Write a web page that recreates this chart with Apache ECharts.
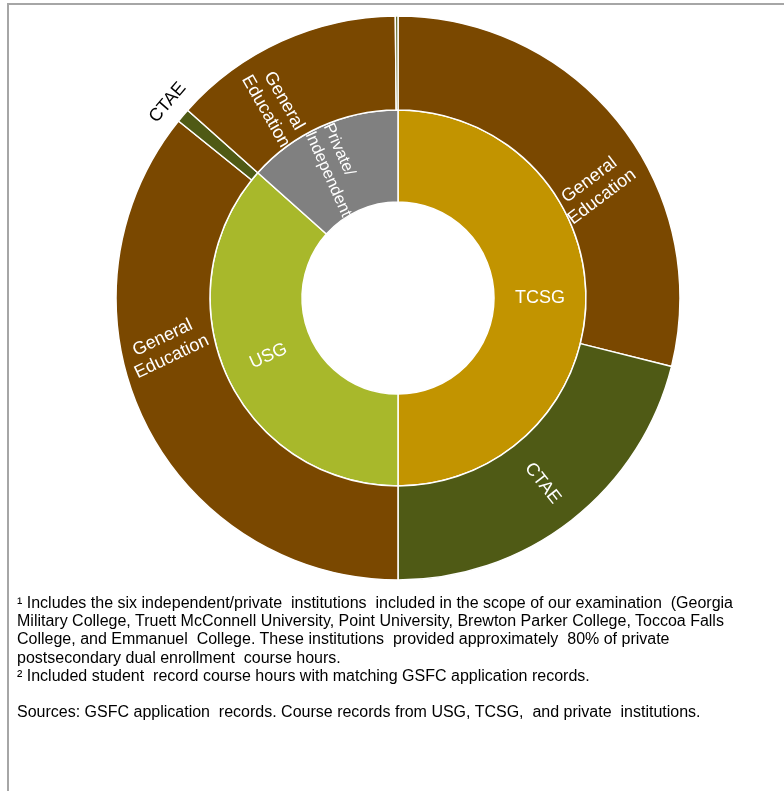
<!DOCTYPE html>
<html>
<head>
<meta charset="utf-8">
<script src="https://cdn.jsdelivr.net/npm/echarts@6/dist/echarts.min.js"></script>
<style>
html, body { margin: 0; padding: 0; background: #fff; }
#frame { position: absolute; left: 7px; top: 3px; width: 777px; height: 788px; border-top: 2px solid #a6a6a6; border-left: 2px solid #a6a6a6; box-sizing: border-box; }
#chart { position: absolute; left: 0; top: 0; width: 784px; height: 791px; }
#notes { position: absolute; left: 17px; top: 594px; font-family: 'Liberation Sans', Arial, sans-serif; font-size: 16px; line-height: 18.2px; color: #000; white-space: pre; }
</style>
</head>
<body>
<div id="frame"></div>
<div id="chart"></div>
<div id="notes"></div>
<script>
// ---- data ----
const sectors = ['TCSG', 'USG', 'Private/\nIndependent'];
const courseTypes = ['General\nEducation', 'CTAE'];
const genEdShare = [28.9, 35.8, 13.25];   // % of course hours
const ctaeShare  = [21.1, 0.8, 0.15];     // % of course hours
const noteLines = [
  '\u00b9 Includes the six independent/private  institutions  included in the scope of our examination  (Georgia',
  'Military College, Truett McConnell University, Point University, Brewton Parker College, Toccoa Falls',
  'College, and Emmanuel  College. These institutions  provided approximately  80% of private',
  'postsecondary dual enrollment  course hours.',
  '\u00b2 Included student  record course hours with matching GSFC application records.',
  '',
  'Sources: GSFC application  records. Course records from USG, TCSG,  and private  institutions.'
];

// ---- styles / layout ----
const sectorColors = ['#C29400', '#A8B82B', '#808080'];
const typeColors = ['#7A4800', '#4F5A15'];
const FONT = 'Liberation Sans';
const CX = 398, CY = 298;
const R_HOLE = 96, R_MID = 188, R_OUT = 282;
const genEdLabelR = [226, 236, 228];       // radius of the "General Education" label centres
const genEdPosNudgeDeg = [9, 13.5, -8.3];  // angular shift of those labels (Excel-like placement)
const genEdRotNudgeDeg = [1, 0, -5.4];     // small rotation tweaks of those labels

document.getElementById('notes').textContent = noteLines.join('\n');

const values = [genEdShare, ctaeShare];
const total = values.flat().reduce((a, b) => a + b, 0);
const toDeg = v => v / total * 360;

// angular ranges (clockwise from 12 o'clock) derived from the data
const sectorStart = [];
{ let acc = 0; sectors.forEach((s, i) => { sectorStart.push(acc); acc += toDeg(genEdShare[i] + ctaeShare[i]); }); }
const genEdMid = sectors.map((s, i) => sectorStart[i] + toDeg(genEdShare[i]) / 2);
const sectorMid = sectors.map((s, i) => sectorStart[i] + toDeg(genEdShare[i] + ctaeShare[i]) / 2);

function sectorOfAngle(deg) {
  for (let i = sectors.length - 1; i >= 0; i--) if (deg >= sectorStart[i]) return i;
  return 0;
}
function radialRotation(phi) {          // readable radial text angle (deg, CCW) for clockwise angle phi
  let t = 90 - phi;
  while (t > 90) t -= 180;
  while (t <= -90) t += 180;
  return t;
}
function polar(r, phi) {
  const a = phi * Math.PI / 180;
  return [CX + r * Math.sin(a), CY - r * Math.cos(a)];
}

const sunData = sectors.map((s, i) => ({
  name: s,
  itemStyle: { color: sectorColors[i] },
  label: i === 2 ? { fontSize: 16.5, lineHeight: 20 } : {},
  children: courseTypes.map((t, j) => {
    const v = values[j][i];
    const node = { name: t, value: v, itemStyle: { color: typeColors[j] } };
    if (j === 1) node.label = v > 5 ? { align: 'center' } : { show: false };
    return node;
  })
}));

// flattened outer ring for the outside label layer
const flat = [];
sectors.forEach((s, i) => courseTypes.forEach((t, j) => {
  const v = values[j][i];
  flat.push({ name: t, value: v, label: { show: j === 1 && v > 0.5 && v < 5 } });
}));

const chart = echarts.init(document.getElementById('chart'), null, { renderer: 'canvas' });
chart.setOption({
  animation: false,
  series: [
    {
      type: 'pie',
      z: 1,
      center: [CX, CY],
      radius: [R_OUT, R_OUT + 34],
      startAngle: 90,
      silent: true,
      avoidLabelOverlap: false,
      itemStyle: { color: 'rgba(0,0,0,0)', borderWidth: 0 },
      label: { position: 'inside', rotate: 'tangential', color: '#000000', fontFamily: FONT, fontSize: 18, formatter: '{b}' },
      labelLine: { show: false },
      emphasis: { disabled: true },
      data: flat
    },
    {
      type: 'sunburst',
      z: 3,
      center: [CX, CY],
      sort: null,
      nodeClick: false,
      startAngle: 90,
      emphasis: { disabled: true },
      itemStyle: { borderColor: '#ffffff', borderWidth: 1.5 },
      label: { color: '#ffffff', fontFamily: FONT, fontSize: 18, lineHeight: 21, rotate: 'radial' },
      data: sunData,
      levels: [
        {},
        { r0: R_HOLE, r: R_MID, label: { rotate: 'radial', align: 'center' } },
        { r0: R_MID, r: R_OUT, label: { rotate: 'radial', align: 'left', distance: 3 } }
      ],
      labelLayout: function (p) {
        const rc = p.labelRect;
        const x0 = rc.x + rc.width / 2 - CX;
        const y0 = rc.y + rc.height / 2 - CY;
        let ang = Math.atan2(x0, -y0) * 180 / Math.PI;
        if (ang < 0) ang += 360;
        const i = sectorOfAngle(ang);
        if (p.text === courseTypes[0]) {
          const pt = polar(genEdLabelR[i], genEdMid[i] + genEdPosNudgeDeg[i]);
          return {
            x: pt[0], y: pt[1], align: 'center', verticalAlign: 'middle',
            rotate: radialRotation(genEdMid[i] + genEdRotNudgeDeg[i])
          };
        }
        if (p.text === sectors[2]) {
          // lines left-aligned, block starting at the outer edge of the inner ring
          const pt = polar(R_MID - 0.5, sectorMid[2] - 1);
          return { x: pt[0], y: pt[1], align: 'left', verticalAlign: 'middle' };
        }
        return {};
      }
    }
  ]
});
</script>
</body>
</html>
